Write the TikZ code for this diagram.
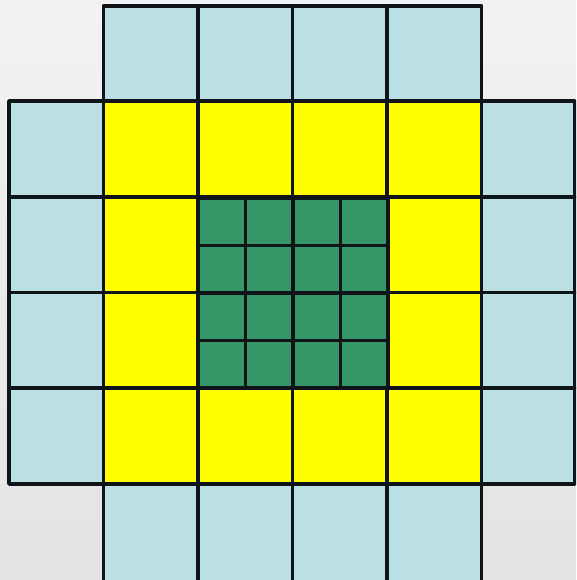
\documentclass[tikz,border=0pt]{standalone}
\definecolor{lblue}{HTML}{BAE0E3}
\definecolor{yel}{HTML}{FFFF00}
\definecolor{grn}{HTML}{359667}
\definecolor{edge}{HTML}{0E1417}
\tikzset{
  cellline/.style={draw=edge, line width=3.4pt, line join=round},
  bluecell/.style={cellline, fill=lblue},
  yelcell/.style={cellline, fill=yel},
  grncell/.style={cellline, fill=grn}
}
\begin{document}
\begin{tikzpicture}[x=1pt,y=-1pt]
  \useasboundingbox (0,0) rectangle (576,580);
  \shade[top color=white!95!black, bottom color=white!89!black] (0,0) rectangle (576,580);
  \begin{scope}
    \clip (0,0) rectangle (576,580);
    % top and bottom rows of blue cells
    \foreach \xa/\xb in {103.5/198, 198/292.5, 292.5/387, 387/481.5} {
      \path[bluecell] (\xa,6) rectangle (\xb,101);
      \path[bluecell] (\xa,484) rectangle (\xb,584);
    }
    % left and right columns of blue cells
    \foreach \ya/\yb in {101/197, 197/292.5, 292.5/388, 388/484} {
      \path[bluecell] (9,\ya) rectangle (103.5,\yb);
      \path[bluecell] (481.5,\ya) rectangle (575,\yb);
    }
    % yellow ring
    \foreach \xa/\xb in {103.5/198, 198/292.5, 292.5/387, 387/481.5} {
      \path[yelcell] (\xa,101) rectangle (\xb,197);
      \path[yelcell] (\xa,388) rectangle (\xb,484);
    }
    \foreach \ya/\yb in {197/292.5, 292.5/388} {
      \path[yelcell] (103.5,\ya) rectangle (198,\yb);
      \path[yelcell] (387,\ya) rectangle (481.5,\yb);
    }
    % green centre, 4 x 4
    \foreach \xa/\xb in {198/245.5, 245.5/293, 293/340.5, 340.5/388} {
      \foreach \ya/\yb in {198/245.5, 245.5/293, 293/340.5, 340.5/388} {
        \path[grncell] (\xa,\ya) rectangle (\xb,\yb);
      }
    }
  \end{scope}
\end{tikzpicture}
\end{document}
